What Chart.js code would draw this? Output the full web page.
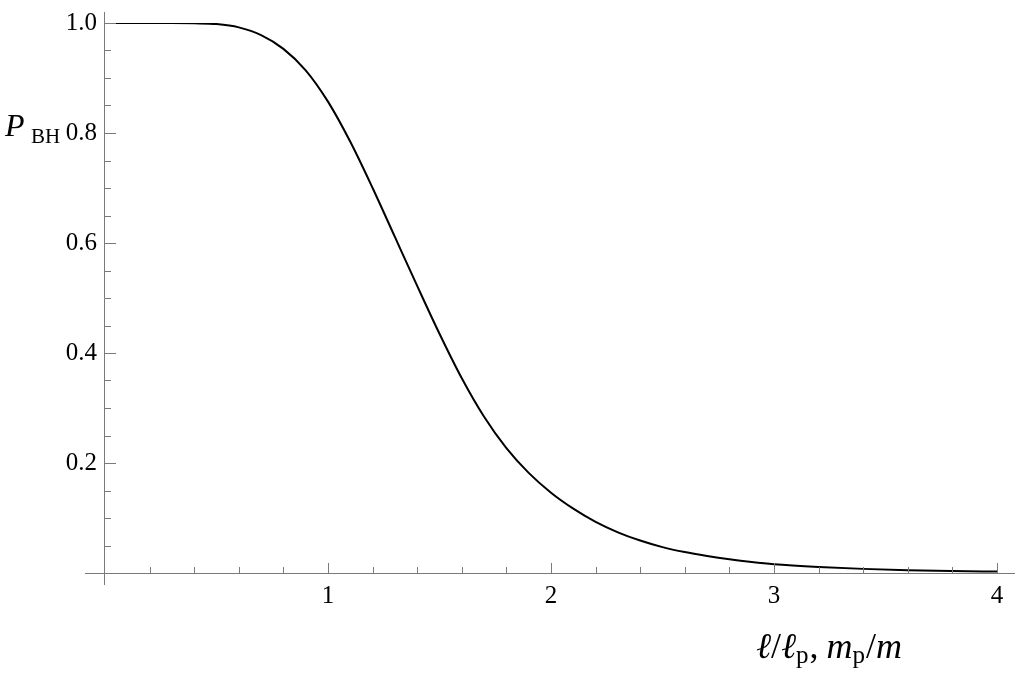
<!DOCTYPE html>
<html lang="en">
<head>
    <meta charset="UTF-8">
    <title>P_BH</title>
    <script src="https://cdn.jsdelivr.net/npm/chart.js"></script>
    <style>
        body{
            margin: 0;
            padding: 0;
            background-color: #ffffff;
        }
        .chart-container {
            width: 1024px;
            height: 674px;
        }
    </style>
</head>
<body>
    <div class="chart-container">
        <canvas id="myChart"></canvas>
    </div>

    <script>
        // values
        const xValues = [0, 0.1, 0.2, 0.3, 0.4, 0.5, 0.6, 0.7, 0.8, 0.9,
                         1.0, 1.1, 1.2, 1.3, 1.4, 1.5, 1.6, 1.7, 1.8, 1.9,
                         2.0, 2.1, 2.2, 2.3, 2.4, 2.5, 2.6, 2.7, 2.8, 2.9,
                         3.0, 3.2, 3.4, 3.6, 3.8, 4.0];
        const pBH = [1.0, 1.0, 1.0, 1.0, 0.9995, 0.998, 0.992, 0.978, 0.953, 0.914,
                     0.857, 0.784, 0.700, 0.611, 0.522, 0.435, 0.354, 0.284, 0.227, 0.182,
                     0.146, 0.117, 0.093, 0.074, 0.059, 0.047, 0.038, 0.031, 0.025, 0.020,
                     0.016, 0.011, 0.0075, 0.005, 0.0035, 0.0025];
        const xTicks = [1, 2, 3, 4];
        const yTicks = [0.2, 0.4, 0.6, 0.8, 1.0];

        const axisColor = '#7a7a7a';
        const serif = '"Liberation Serif", "Times New Roman", serif';

        // x title pieces: text, font, baseline shift, extra gap after
        const xTitle = [
            ['ℓ', 'italic 36px', 0, 0],
            ['/', '36px', 0, 0],
            ['ℓ', 'italic 36px', 0, 0],
            ['p', '25px', 5, 1],
            [',', '36px', 0, 8],
            ['m', 'italic 36px', 0, 0],
            ['p', '25px', 5, 1],
            ['/', '36px', 0, 0],
            ['m', 'italic 36px', 0, 0]
        ];

        // axes through the origin, ticks pointing inward, titles
        const axesPlugin = {
            id: 'axes',
            afterDraw(chart) {
                const ctx = chart.ctx;
                const xs = chart.scales.x, ys = chart.scales.y;
                const x0 = xs.getPixelForValue(0), y0 = ys.getPixelForValue(0);
                ctx.save();
                ctx.strokeStyle = axisColor;
                ctx.lineWidth = 1;
                ctx.beginPath();
                ctx.moveTo(x0 - 20, y0 + 0.5);
                ctx.lineTo(xs.getPixelForValue(4) + 18, y0 + 0.5);
                ctx.moveTo(x0 - 0.5, ys.getPixelForValue(1) - 11);
                ctx.lineTo(x0 - 0.5, y0 + 12);
                // x ticks every 0.2
                for (let i = 1; i <= 20; i++) {
                    const px = Math.round(xs.getPixelForValue(i * 0.2)) + 0.5;
                    const len = i % 5 === 0 ? 10 : 6;
                    ctx.moveTo(px, y0);
                    ctx.lineTo(px, y0 - len);
                }
                // y ticks every 0.05
                for (let i = 1; i <= 20; i++) {
                    const py = Math.round(ys.getPixelForValue(i * 0.05)) + 0.5;
                    const len = i % 4 === 0 ? 11 : 6;
                    ctx.moveTo(x0, py);
                    ctx.lineTo(x0 + len, py);
                }
                ctx.stroke();

                ctx.fillStyle = '#000';
                ctx.textBaseline = 'alphabetic';
                // y title P_BH
                ctx.font = 'italic 32px ' + serif;
                ctx.fillText('P', 5, 136);
                ctx.font = '21px ' + serif;
                ctx.fillText('BH', 31, 143);

                // x title  l/l_p, m_p/m, laid out left to right and centred
                let total = 0;
                xTitle.forEach(p => {
                    ctx.font = p[1] + ' ' + serif;
                    total += ctx.measureText(p[0]).width + p[3];
                });
                let cx = 829 - total / 2;
                xTitle.forEach(p => {
                    ctx.font = p[1] + ' ' + serif;
                    ctx.fillText(p[0], cx, 658 + p[2]);
                    cx += ctx.measureText(p[0]).width + p[3];
                });
                ctx.restore();
            }
        };

        const ctx = document.getElementById('myChart');

        new Chart(ctx, {
            type: 'line',
            data: {
                labels: xValues,
                datasets: [{
                    data: xValues.map((x, i) => ({ x: x, y: pBH[i] })),
                    borderColor: '#000000',
                    borderWidth: 2,
                    pointRadius: 0,
                    fill: false,
                    cubicInterpolationMode: 'monotone'
                }]
            },
            options: {
                responsive: true,
                maintainAspectRatio: false,
                animation: false,
                layout: { padding: { left: 0, right: 27, top: 19, bottom: 0 } },
                plugins: {
                    legend: { display: false },
                    tooltip: { enabled: false }
                },
                scales: {
                    x: {
                        type: 'linear',
                        min: 0,
                        max: 4,
                        grid: { display: false, drawTicks: false },
                        border: { display: false },
                        afterFit: s => { s.height = 101; },
                        afterBuildTicks: s => { s.ticks = xTicks.map(v => ({ value: v })); },
                        ticks: {
                            padding: 8,
                            color: '#000',
                            maxRotation: 0,
                            font: { family: serif, size: 25 },
                            callback: v => String(v)
                        }
                    },
                    y: {
                        min: 0,
                        max: 1,
                        grid: { display: false, drawTicks: false },
                        border: { display: false },
                        afterFit: s => { s.width = 105; },
                        afterBuildTicks: s => { s.ticks = yTicks.map(v => ({ value: v })); },
                        ticks: {
                            padding: 8,
                            color: '#000',
                            font: { family: serif, size: 25 },
                            callback: v => v.toFixed(1)
                        }
                    }
                }
            },
            plugins: [axesPlugin]
        });
    </script>
</body>
</html>
